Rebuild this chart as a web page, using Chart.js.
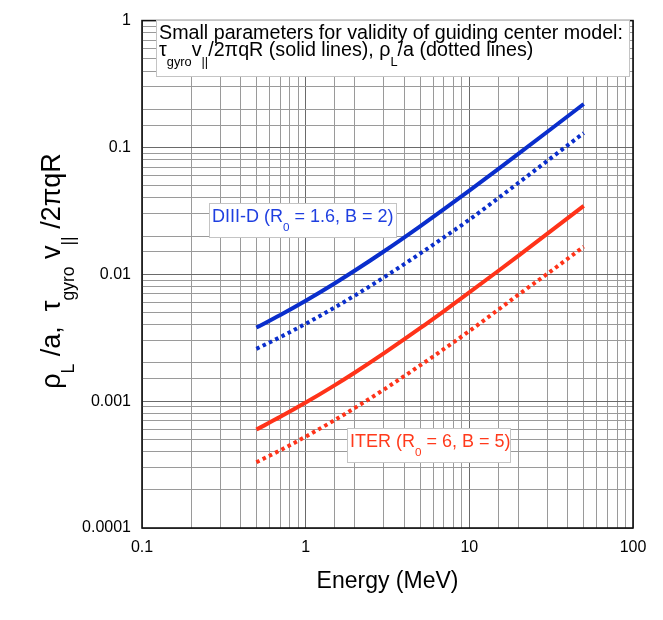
<!DOCTYPE html>
<html><head><meta charset="utf-8">
<script src="https://cdn.jsdelivr.net/npm/chart.js@4.4.0/dist/chart.umd.min.js"></script>
<style>html,body{margin:0;padding:0;background:#fff;}</style>
</head><body>
<canvas id="c" width="663" height="620" style="width:663px;height:620px;display:block"></canvas>
<script>
// ---- data ----
const energies     = [0.5, 0.7, 1, 1.5, 2, 3, 5, 7, 10, 15, 20, 30, 50];
const diiidSolid   = [0.00380, 0.00478, 0.00619, 0.00847, 0.01071, 0.01513, 0.02390, 0.03265, 0.04573, 0.06753, 0.08931, 0.1329, 0.2200];
const diiidDotted  = [0.002584, 0.003200, 0.004074, 0.005465, 0.006815, 0.009445, 0.01456, 0.01957, 0.02695, 0.0398, 0.0527, 0.0785, 0.130];
const iterSolid    = [0.000597, 0.000752, 0.000974, 0.001332, 0.001683, 0.002379, 0.003757, 0.005133, 0.007191, 0.01062, 0.01404, 0.02089, 0.03458];
const iterDotted   = [0.000330, 0.000410, 0.000525, 0.000707, 0.000885, 0.001232, 0.001912, 0.002581, 0.003570, 0.005251, 0.006925, 0.0101, 0.0165];
const xTickLabels  = ['0.1', '1', '10', '100'];
const yTickLabels  = ['0.0001', '0.001', '0.01', '0.1', '1'];
const xTitle = 'Energy (MeV)';
const yTitleParts = [{t:'ρ'},{t:'L',sub:true},{t:' /a,  τ'},{t:'gyro',sub:true},{t:' v'},{t:'||',sub:true},{t:' /2πqR'}];
const boxLine1 = [{t:'Small parameters for validity of guiding center model:'}];
const boxLine2 = [{t:'τ'},{t:'gyro',sub:true},{t:'v'},{t:'||',sub:true},{t:'/2πqR (solid lines), ρ'},{t:'L',sub:true},{t:'/a (dotted lines)'}];
const diiidLabel = [{t:'DIII-D (R'},{t:'0',sub:true},{t:' = 1.6, B = 2)'}];
const iterLabel  = [{t:'ITER (R'},{t:'0',sub:true},{t:' = 6, B = 5)'}];

const FONT = "'Liberation Sans', Arial, Helvetica, sans-serif";
const BLUE = '#0a2ecc', RED = '#ff3319';
const BLUE_TXT = '#1f3fe0', RED_TXT = '#ff3a1c';

const pts = ys => energies.map((e, i) => ({x: e, y: ys[i]}));
const isDecade = v => { const l = Math.log10(v); return Math.abs(l - Math.round(l)) < 1e-6; };

function drawRich(ctx, parts, x, y, size, color, align) {
  ctx.fillStyle = color;
  ctx.textBaseline = 'alphabetic';
  ctx.textAlign = 'left';
  let w = 0;
  const ms = parts.map(p => {
    ctx.font = (p.sub ? size * 0.65 : size) + 'px ' + FONT;
    const mw = ctx.measureText(p.t).width; w += mw; return mw;
  });
  let cx = align === 'center' ? x - w / 2 : x;
  parts.forEach((p, i) => {
    ctx.font = (p.sub ? size * 0.65 : size) + 'px ' + FONT;
    ctx.fillText(p.t, cx, y + (p.sub ? size * 0.5 : 0));
    cx += ms[i];
  });
  return w;
}
function box(ctx, x, y, w, h) {
  ctx.fillStyle = '#fff';
  ctx.fillRect(x, y, w, h);
  ctx.strokeStyle = '#c4c4c4';
  ctx.lineWidth = 1;
  ctx.strokeRect(x + 0.5, y + 0.5, w, h);
}

const decor = {
  id: 'decor',
  afterDraw(chart) {
    const ctx = chart.ctx, a = chart.chartArea;
    ctx.save();
    // plot frame
    ctx.strokeStyle = '#111';
    ctx.lineWidth = 1.6;
    ctx.strokeRect(a.left, a.top, a.right - a.left, a.bottom - a.top);
    // axis titles
    ctx.fillStyle = '#000';
    ctx.font = '23px ' + FONT;
    ctx.textAlign = 'center';
    ctx.textBaseline = 'alphabetic';
    ctx.fillText(xTitle, (a.left + a.right) / 2, 588);
    ctx.save();
    ctx.translate(60, 271);
    ctx.rotate(-Math.PI / 2);
    drawRich(ctx, yTitleParts, 0, 0, 27, '#000', 'center');
    ctx.restore();
    // title box
    box(ctx, 156, 20, 473, 56);
    drawRich(ctx, boxLine1, 159, 39, 19.7, '#000');
    drawRich(ctx, boxLine2, 159, 56, 19.7, '#000');
    // series labels
    box(ctx, 209, 203, 187, 34);
    drawRich(ctx, diiidLabel, 212, 222, 18, BLUE_TXT);
    box(ctx, 347, 428, 163, 34);
    drawRich(ctx, iterLabel, 350, 447, 18, RED_TXT);
    ctx.restore();
  }
};

const gridColor = c => isDecade(c.tick.value) ? '#6a6a6a' : '#9a9a9a';

new Chart(document.getElementById('c'), {
  type: 'line',
  data: {
    datasets: [
      {data: pts(diiidSolid),  borderColor: BLUE, borderWidth: 4, pointRadius: 0, cubicInterpolationMode: 'monotone'},
      {data: pts(diiidDotted), borderColor: BLUE, borderWidth: 4, borderDash: [3.5, 3.5], pointRadius: 0, cubicInterpolationMode: 'monotone'},
      {data: pts(iterSolid),   borderColor: RED,  borderWidth: 4, pointRadius: 0, cubicInterpolationMode: 'monotone'},
      {data: pts(iterDotted),  borderColor: RED,  borderWidth: 4, borderDash: [3.5, 3.5], pointRadius: 0, cubicInterpolationMode: 'monotone'}
    ]
  },
  options: {
    responsive: false,
    animation: false,
    events: [],
    layout: {padding: {left: 0, right: 30, top: 16, bottom: 0}},
    plugins: {legend: {display: false}, tooltip: {enabled: false}, title: {display: false}},
    scales: {
      x: {
        type: 'logarithmic', min: 0.1, max: 100,
        afterFit: s => { s.height = 92; },
        border: {display: false},
        grid: {color: gridColor, lineWidth: 1, drawTicks: false},
        ticks: {
          autoSkip: false, maxRotation: 0, padding: 10, color: '#000',
          font: {family: FONT, size: 16},
          callback: v => isDecade(v) ? xTickLabels[Math.round(Math.log10(v)) + 1] : ''
        }
      },
      y: {
        type: 'logarithmic', min: 0.0001, max: 1,
        afterFit: s => { s.width = 142; },
        border: {display: false},
        grid: {color: gridColor, lineWidth: 1, drawTicks: false},
        ticks: {
          autoSkip: false, padding: 11, color: '#000',
          font: {family: FONT, size: 16},
          callback: v => isDecade(v) ? yTickLabels[Math.round(Math.log10(v)) + 4] : ''
        }
      }
    }
  },
  plugins: [decor]
});
</script>
</body></html>
